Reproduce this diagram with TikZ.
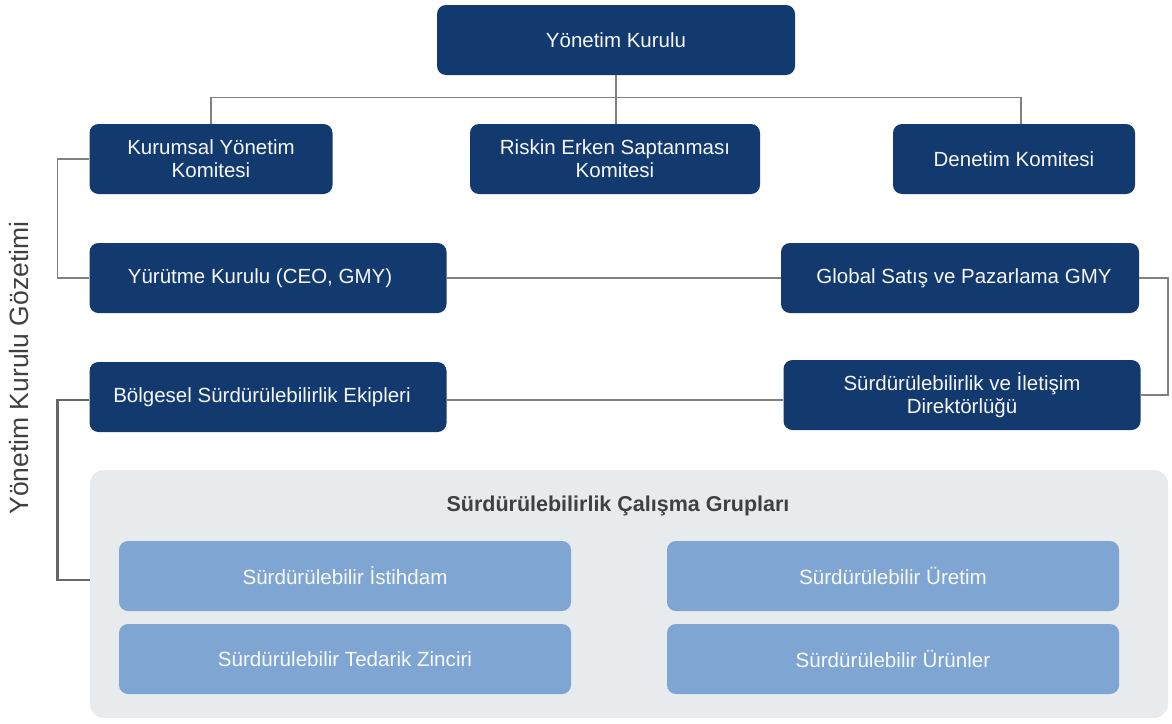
\documentclass[tikz,border=0pt]{standalone}
\usepackage{fontspec}
\setmainfont{Liberation Sans}
\usetikzlibrary{calc,positioning}
\definecolor{ykBlue}{RGB}{19,58,110}
\definecolor{ykLight}{RGB}{127,165,211}
\definecolor{ykPanel}{RGB}{231,235,238}
\definecolor{ykLine}{RGB}{128,128,128}
\definecolor{ykText}{RGB}{64,64,64}

\begin{document}
\begin{tikzpicture}[x=1pt,y=-1pt,
    darkbox/.style={rounded corners=9pt, fill=ykBlue, text=white!96!ykBlue, align=center,
        minimum height=70pt, inner sep=0pt, font=\fontsize{20.5}{23}\selectfont},
    lightbox/.style={rounded corners=9pt, fill=ykLight, text=white!94!ykLight,
        minimum width=452pt, minimum height=70pt, inner sep=0pt,
        font=\fontsize{20.6}{23}\selectfont},
    link/.style={ykLine, line width=1.6pt}]
    % frame
    \useasboundingbox (0,0) rectangle (1172,723);

    % board and committees
    \node[darkbox, minimum width=358pt] (yk) at (616,40) {Yönetim Kurulu};
    \node[darkbox, minimum width=243pt] (kurumsal) at (211,159) {Kurumsal Yönetim\\Komitesi};
    \node[darkbox, minimum width=290pt] (riskin) at (615,159) {Riskin Erken Saptanması\\Komitesi};
    \node[darkbox, minimum width=242pt] (denetim) at (1014,159) {Denetim Komitesi};

    % executive level
    \node[darkbox, minimum width=357pt] (yurutme) at (268,278) {Yürütme Kurulu (CEO, GMY)\hspace*{16pt}};
    \node[darkbox, minimum width=358pt] (global) at (960,278) {\hspace*{8pt}Global Satış ve Pazarlama GMY};
    \node[darkbox, minimum width=357pt] (bolgesel) at (268,397) {Bölgesel Sürdürülebilirlik Ekipleri\hspace*{12pt}};
    \node[darkbox, minimum width=357pt] (iletisim) at (962,395) {Sürdürülebilirlik ve İletişim\\Direktörlüğü};

    % working groups
    \node[rounded corners=14pt, fill=ykPanel, minimum width=1078pt, minimum height=248pt,
        inner sep=0pt] (panel) at (629,594) {};
    \node[text=ykText, font=\fontsize{21.5}{24}\selectfont\bfseries] (gruplar) at (618,506)
        {Sürdürülebilirlik Çalışma Grupları};
    \node[lightbox] (istihdam) at (345,576) {Sürdürülebilir İstihdam};
    \node[lightbox] (tedarik) at (345,659) {Sürdürülebilir Tedarik Zinciri};
    \node[lightbox] (uretim) at (893,576) {Sürdürülebilir Üretim};
    \node[lightbox] (urunler) at (893,659) {Sürdürülebilir Ürünler};

    % side label
    \node[rotate=90, text=ykText, font=\fontsize{26.5}{30}\selectfont] (gozetim) at (19,368)
        {Yönetim Kurulu Gözetimi};

    % connectors
    \draw[link] (yk.south) -- (yk.south |- riskin.north);
    \draw[link] (kurumsal.north) |- ($(yk.south)!0.46!(riskin.north)$) -| ([xshift=7pt]denetim.north);
    \draw[link] (kurumsal.west) -- ++(-32,0) |- (yurutme.west);
    \draw[link] (yurutme.east) -- (global.west);
    \draw[link] (global.east) -- ++(29,0) |- (iletisim.east);
    \draw[link] ([yshift=-3pt]bolgesel.east) -- ([yshift=-3pt]bolgesel.east -| iletisim.west);
    \draw[link, line width=2.6pt, ykLine!80!black] ([yshift=-3pt]bolgesel.west) -- ++(-32,0)
        |- ([yshift=-4pt]istihdam.west -| panel.west);
\end{tikzpicture}
\end{document}
